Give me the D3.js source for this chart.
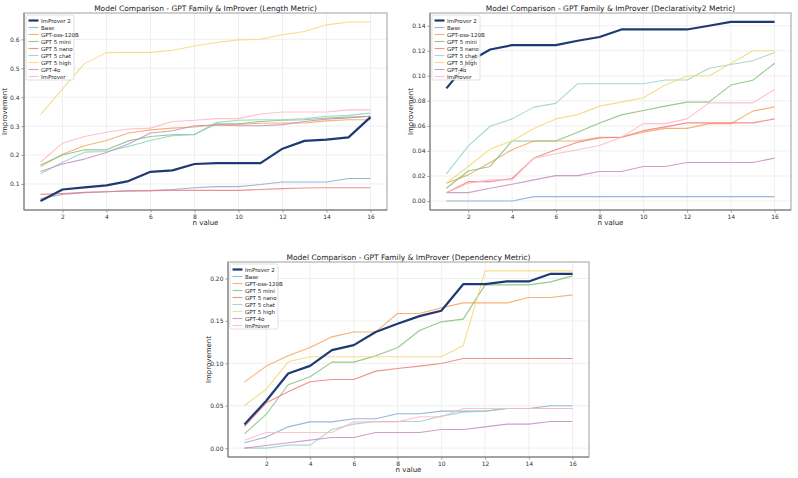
<!DOCTYPE html>
<html><head><meta charset="utf-8">
<script src="https://cdn.jsdelivr.net/npm/d3@7"></script>
<style>body{margin:0;background:#fff}svg{display:block;font-family:"DejaVu Sans",sans-serif}</style>
</head><body><svg id="c" width="798" height="478"></svg>
<script>
const nValues = [1,2,3,4,5,6,7,8,9,10,11,12,13,14,15,16];
const seriesNames = ["ImProver 2","Base","GPT-oss-120B","GPT 5 mini","GPT 5 nano","GPT 5 chat","GPT 5 high","GPT-4o","ImProver"];
const seriesColors = ["#1f3a73","#88a9d3","#f5a55f","#82c17a","#ef7c7c","#95d2c8","#f6d774","#c48fc0","#ffb6c1"];

// Length metric
const lenImProver2 = [0.041,0.081,0.088,0.095,0.110,0.142,0.147,0.169,0.172,0.172,0.172,0.222,0.249,0.253,0.261,0.331];
const lenBase      = [0.050,0.064,0.070,0.073,0.076,0.077,0.081,0.087,0.091,0.091,0.098,0.107,0.107,0.107,0.119,0.119];
const lenOss       = [0.160,0.203,0.232,0.250,0.276,0.287,0.293,0.297,0.305,0.306,0.310,0.311,0.311,0.318,0.322,0.322];
const lenMini      = [0.166,0.200,0.218,0.218,0.249,0.264,0.270,0.272,0.308,0.308,0.316,0.320,0.322,0.328,0.331,0.334];
const lenNano      = [0.064,0.067,0.071,0.073,0.076,0.077,0.078,0.078,0.078,0.078,0.081,0.084,0.086,0.087,0.087,0.087];
const lenChat      = [0.135,0.175,0.210,0.212,0.230,0.250,0.267,0.270,0.313,0.320,0.322,0.322,0.326,0.334,0.337,0.345];
const lenHigh      = [0.340,0.429,0.516,0.554,0.555,0.555,0.562,0.577,0.589,0.598,0.600,0.616,0.627,0.650,0.660,0.660];
const len4o        = [0.143,0.169,0.186,0.209,0.238,0.276,0.284,0.301,0.304,0.301,0.301,0.305,0.316,0.324,0.328,0.334];
const lenImProver  = [0.175,0.241,0.264,0.279,0.290,0.293,0.316,0.320,0.326,0.326,0.342,0.349,0.349,0.349,0.356,0.356];

// Declarativity2 metric
const decImProver2 = [0.090,0.111,0.121,0.1245,0.1245,0.1245,0.128,0.131,0.137,0.137,0.137,0.137,0.140,0.143,0.143,0.143];
const decBase      = [0,0,0,0,0.0035,0.0035,0.0035,0.0035,0.0035,0.0035,0.0035,0.0035,0.0035,0.0035,0.0035,0.0035];
const decOss       = [0.0142,0.0209,0.0308,0.041,0.048,0.048,0.048,0.0509,0.0509,0.055,0.058,0.058,0.0618,0.0618,0.0718,0.0752];
const decMini      = [0.0102,0.024,0.0276,0.048,0.048,0.048,0.055,0.0624,0.0688,0.0723,0.0758,0.079,0.079,0.0926,0.0964,0.110];
const decNano      = [0.0067,0.0155,0.0155,0.018,0.0343,0.041,0.0469,0.0503,0.0509,0.0562,0.0592,0.0624,0.0624,0.0624,0.0624,0.0656];
const decChat      = [0.0217,0.044,0.0597,0.0656,0.075,0.078,0.0937,0.0937,0.0937,0.0937,0.0967,0.0967,0.106,0.109,0.112,0.1186];
const decHigh      = [0.0142,0.0276,0.0415,0.048,0.058,0.0656,0.069,0.0758,0.079,0.0825,0.0926,0.0999,0.0999,0.1098,0.120,0.120];
const dec4o        = [0.0067,0.0067,0.0102,0.0134,0.0169,0.0203,0.0203,0.0236,0.0236,0.0276,0.0276,0.0308,0.0308,0.0308,0.0308,0.0343];
const decImProver  = [0.0067,0.0142,0.0169,0.0169,0.0343,0.0378,0.041,0.0444,0.0509,0.0618,0.0618,0.0656,0.0784,0.0784,0.0784,0.089];

// Dependency metric
const depImProver2 = [0.0279,0.0558,0.088,0.097,0.1155,0.1214,0.137,0.1466,0.1556,0.162,0.1933,0.1933,0.1965,0.1965,0.2055,0.2055];
const depBase      = [0.0063,0.013,0.0251,0.031,0.031,0.0346,0.0346,0.0405,0.0405,0.0436,0.0436,0.0436,0.0468,0.0468,0.0499,0.0499];
const depOss       = [0.0778,0.0967,0.1088,0.1187,0.1312,0.137,0.137,0.1587,0.1587,0.1654,0.1713,0.1713,0.1713,0.1776,0.1776,0.1807];
const depMini      = [0.0169,0.040,0.0747,0.0841,0.1014,0.1014,0.1088,0.1183,0.1387,0.1489,0.1521,0.1925,0.1925,0.1925,0.196,0.2031];
const depNano      = [0.0255,0.0534,0.0664,0.0782,0.0809,0.0809,0.0908,0.0939,0.0967,0.0998,0.1057,0.1057,0.1057,0.1057,0.1057,0.1057];
const depChat      = [0.0,0.0,0.0035,0.0035,0.022,0.0283,0.0314,0.0314,0.0314,0.0377,0.0425,0.0436,0.0468,0.0468,0.0468,0.0468];
const depHigh      = [0.0503,0.0695,0.1018,0.1077,0.1077,0.1077,0.1077,0.1077,0.1077,0.1077,0.1206,0.209,0.209,0.209,0.209,0.209];
const dep4o        = [0.0,0.0031,0.0063,0.0094,0.0126,0.0126,0.0185,0.0185,0.0185,0.022,0.022,0.0251,0.0283,0.0283,0.0314,0.0314];
const depImProver  = [0.0094,0.0185,0.0185,0.0185,0.0185,0.031,0.031,0.031,0.037,0.037,0.0468,0.0468,0.0468,0.0468,0.0468,0.0468];

const xTicks = [2,4,6,8,10,12,14,16];
const lenYTicks = [0.1,0.2,0.3,0.4,0.5,0.6];
const decYTicks = [0.00,0.02,0.04,0.06,0.08,0.10,0.12,0.14];
const depYTicks = [0.00,0.05,0.10,0.15,0.20];

const panels = [
  {title:"Model Comparison - GPT Family & ImProver (Length Metric)", series:[lenImProver2,lenBase,lenOss,lenMini,lenNano,lenChat,lenHigh,len4o,lenImProver], yTicks:lenYTicks, fmt:".1f", box:[24,13,387,210]},
  {title:"Model Comparison - GPT Family & ImProver (Declarativity2 Metric)", series:[decImProver2,decBase,decOss,decMini,decNano,decChat,decHigh,dec4o,decImProver], yTicks:decYTicks, fmt:".2f", box:[430,13,791,210]},
  {title:"Model Comparison - GPT Family & ImProver (Dependency Metric)", series:[depImProver2,depBase,depOss,depMini,depNano,depChat,depHigh,dep4o,depImProver], yTicks:depYTicks, fmt:".2f", box:[228,262,589,457]}
];

const svg = d3.select("#c");
panels.forEach(p => {
  const [x0,y0,x1,y1] = p.box;
  const all = p.series.flat();
  const mn = d3.min(all), mx = d3.max(all), pad = (mx-mn)*0.05;
  const x = d3.scaleLinear().domain([0.25,16.75]).range([x0,x1]);
  const y = d3.scaleLinear().domain([mn-pad,mx+pad]).range([y1,y0]);
  const g = svg.append("g");
  // grid
  g.selectAll(".gx").data(xTicks).join("line").attr("x1",d=>x(d)).attr("x2",d=>x(d)).attr("y1",y0).attr("y2",y1).attr("stroke","#ebebeb").attr("stroke-width",0.8);
  g.selectAll(".gy").data(p.yTicks).join("line").attr("y1",d=>y(d)).attr("y2",d=>y(d)).attr("x1",x0).attr("x2",x1).attr("stroke","#ebebeb").attr("stroke-width",0.8);
  // axes
  const xa = g.append("g").attr("transform",`translate(0,${y1})`).call(d3.axisBottom(x).tickValues(xTicks).tickSize(2.5).tickPadding(2));
  const ya = g.append("g").attr("transform",`translate(${x0},0)`).call(d3.axisLeft(y).tickValues(p.yTicks).tickFormat(d3.format(p.fmt)).tickSize(2.5).tickPadding(2));
  [xa,ya].forEach(a=>{a.select(".domain").remove();a.selectAll("line").attr("stroke","#555").attr("stroke-width",0.6);a.selectAll("text").attr("font-size",6).attr("fill","#333").attr("font-family","DejaVu Sans");});
  // lines
  const line = d3.line().x((d,i)=>x(nValues[i])).y(d=>y(d));
  const order = [1,2,3,4,5,6,7,8,0];
  order.forEach(k=>{
    g.append("path").datum(p.series[k]).attr("d",line).attr("fill","none")
      .attr("stroke",seriesColors[k]).attr("stroke-width",k===0?2.2:1.1).attr("stroke-opacity",k===0?1:0.85).attr("stroke-linejoin","round");
  });
  // frame
  g.append("rect").attr("x",x0).attr("y",y0).attr("width",x1-x0).attr("height",y1-y0).attr("fill","none").attr("stroke","#b0b0b0").attr("stroke-width",1.2);
  g.append("line").attr("x1",x0).attr("x2",x0).attr("y1",y0).attr("y2",y1).attr("stroke","#777").attr("stroke-width",1);
  g.append("line").attr("x1",x0).attr("x2",x1).attr("y1",y1).attr("y2",y1).attr("stroke","#777").attr("stroke-width",1);
  // titles
  g.append("text").attr("x",(x0+x1)/2).attr("y",y0-2).attr("text-anchor","middle").attr("font-size",7.5).attr("fill","#222").text(p.title);
  g.append("text").attr("x",(x0+x1)/2).attr("y",y1+14.5).attr("text-anchor","middle").attr("font-size",7).attr("fill","#222").text("n value");
  g.append("text").attr("transform",`translate(${x0-17},${(y0+y1)/2}) rotate(-90)`).attr("text-anchor","middle").attr("font-size",7).attr("fill","#222").text("Improvement");
  // legend
  const lx = x0+2, ly = y0+2;
  const lg = g.append("g");
  lg.append("rect").attr("x",lx).attr("y",ly).attr("width",48).attr("height",65).attr("rx",1.5).attr("fill","#fff").attr("fill-opacity",0.85).attr("stroke","#ccc").attr("stroke-width",0.6);
  seriesNames.forEach((nm,k)=>{
    const yy = ly+5.5+k*7;
    lg.append("line").attr("x1",lx+2.5).attr("x2",lx+12.5).attr("y1",yy).attr("y2",yy).attr("stroke",seriesColors[k]).attr("stroke-width",k===0?2.2:1.1).attr("stroke-opacity",k===0?1:0.85);
    lg.append("text").attr("x",lx+15).attr("y",yy+2).attr("font-size",5.5).attr("fill","#222").text(nm);
  });
});
</script></body></html>
